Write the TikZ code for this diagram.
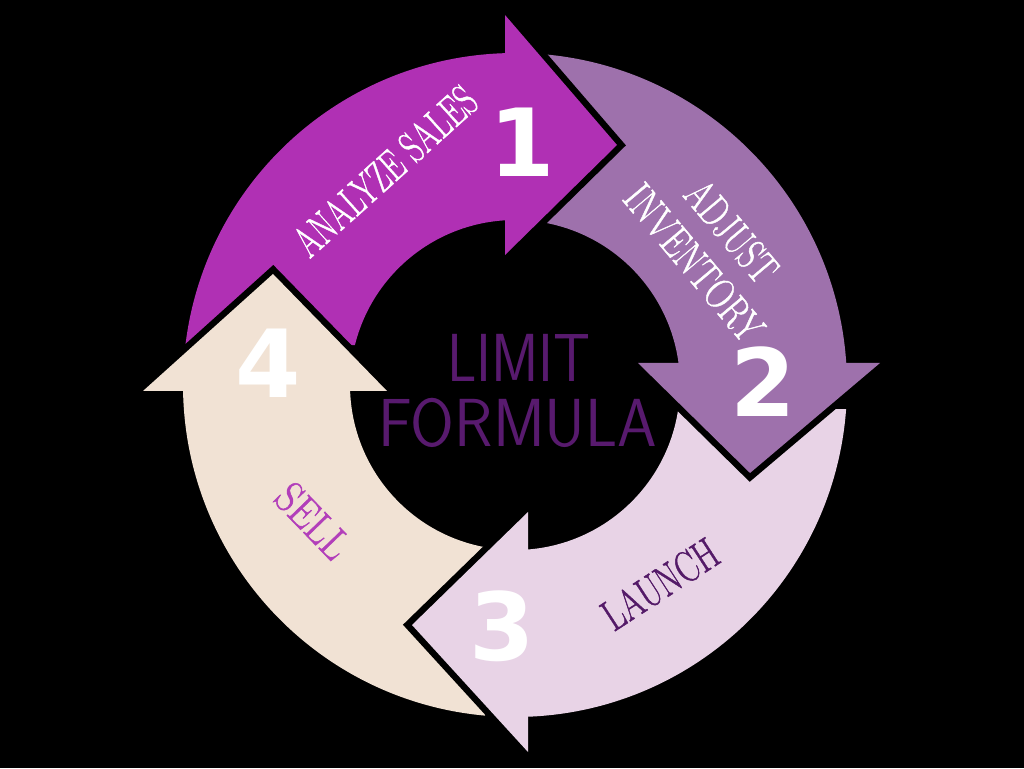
\documentclass[tikz,border=0pt]{standalone}
\usepackage{fontspec}
\newfontfamily\numfont{DejaVu Sans}
\newfontfamily\lblfont{Latin Modern Roman}[FakeBold=1.2]
\definecolor{cOne}{RGB}{176,48,180}
\definecolor{cTwo}{RGB}{158,113,172}
\definecolor{cThree}{RGB}{232,211,230}
\definecolor{cFour}{RGB}{241,226,212}
\definecolor{cCenter}{RGB}{88,26,110}
\definecolor{cLaunch}{RGB}{84,26,104}
\definecolor{cSell}{RGB}{178,62,186}
\tikzset{
  headline/.style={draw=black, line width=13pt, line join=miter, line cap=butt},
  lbl/.style={inner sep=0pt, font=\lblfont\fontsize{44}{46}\selectfont, align=center},
  numlbl/.style={inner sep=0pt, text=white, font=\numfont\bfseries\fontsize{94}{94}\selectfont},
  ctr/.style={inner sep=0pt, text=cCenter, font=\sffamily\fontsize{68}{68}\selectfont}
}
\begin{document}
\begin{tikzpicture}[x=1pt,y=1pt]
\fill[black] (0,0) rectangle (1024,768);
\begin{scope}[shift={(515,383)}]
  % bodies
  \fill[cOne] (173.1:332) arc[start angle=173.1, end angle=91.73, radius=332]
     -- (93.47:165) arc[start angle=93.47, end angle=166.0, radius=165] -- cycle;
  \fill[cTwo] (84.47:332) arc[start angle=84.47, end angle=3.80, radius=332]
     -- (7.66:165) arc[start angle=7.66, end angle=78.82, radius=165] -- cycle;
  \fill[cThree] (-4.15:332) arc[start angle=-4.15, end angle=-87.76, radius=332]
     -- (-85.48:165) arc[start angle=-85.48, end angle=-8.36, radius=165] -- cycle;
  \fill[cFour] (264.82:332) arc[start angle=264.82, end angle=181.04, radius=332]
     -- (182.08:165) arc[start angle=182.08, end angle=259.52, radius=165] -- cycle;
  % heads
  \coordinate (h1a) at (-10,370); \coordinate (h1t) at (102,240); \coordinate (h1b) at (-10,130);
  \coordinate (h2a) at (365,22);  \coordinate (h2t) at (235,-88); \coordinate (h2b) at (123,22);
  \coordinate (h3a) at (13,-367); \coordinate (h3t) at (-103,-240); \coordinate (h3b) at (13,-127);
  \coordinate (h4a) at (-372,-6); \coordinate (h4t) at (-242,111); \coordinate (h4b) at (-128,-6);
  \draw[headline] (h1a) -- (h1t) -- (h1b);
  \fill[cOne] (h1a) -- (h1t) -- (h1b) -- cycle;
  \draw[headline] (h2a) -- (h2t) -- (h2b);
  \fill[cTwo] (h2a) -- (h2t) -- (h2b) -- cycle;
  \draw[headline] (h3a) -- (h3t) -- (h3b);
  \fill[cThree] (h3a) -- (h3t) -- (h3b) -- cycle;
  \draw[headline] (h4a) -- (h4t) -- (h4b);
  \fill[cFour] (h4a) -- (h4t) -- (h4b) -- cycle;
\end{scope}
% labels
\node[lbl, rotate=42, text=white] (ana) at (385,597) {\scalebox{0.68}[1]{ANALYZE SALES}};
\node[lbl, rotate=-50, text=white] (adj) at (713,521) {\scalebox{0.72}[1]{ADJUST}\\[3pt]\scalebox{0.76}[1]{INVENTORY}};
\node[lbl, rotate=33, text=cLaunch] (lau) at (660,184) {\scalebox{0.74}[1]{LAUNCH}};
\node[lbl, rotate=-46, text=cSell] (sel) at (313,247) {\scalebox{0.86}[1]{SELL}};
% numbers
\node[numlbl] (n1) at (522,626) {1};
\node[numlbl] (n2) at (763,386) {2};
\node[numlbl] (n3) at (502,142) {3};
\node[numlbl] (n4) at (268,405) {4};
% centre
\node[ctr] (limit) at (519,410) {\scalebox{0.85}[1]{LIMIT}};
\node[ctr] (formula) at (518,345) {\scalebox{0.93}[1]{FORMULA}};
\end{tikzpicture}
\end{document}
